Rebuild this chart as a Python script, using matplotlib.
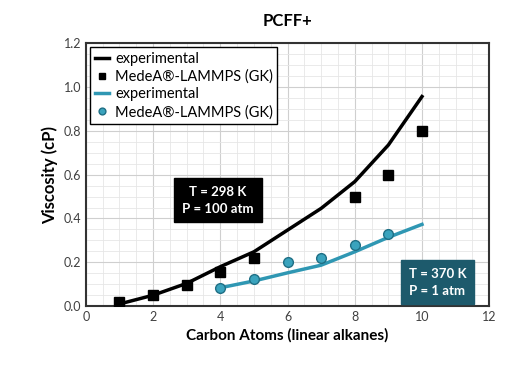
import matplotlib
matplotlib.use("Agg")
import matplotlib.pyplot as plt
from matplotlib.ticker import MultipleLocator

plt.rcParams['font.family'] = ['Lato', 'DejaVu Sans']

# experimental and simulated viscosities (cP)
carbon_exp_298 = [1, 2, 3, 4, 5, 6, 7, 8, 9, 10]
visc_exp_298 = [0.01, 0.05, 0.104, 0.18, 0.248, 0.347, 0.446, 0.568, 0.735, 0.956]
carbon_sim_298 = [1, 2, 3, 4, 5, 8, 9, 10]
visc_sim_298 = [0.02, 0.05, 0.096, 0.157, 0.218, 0.5, 0.598, 0.8]

carbon_exp_370 = [4, 5, 6, 7, 8, 9, 10]
visc_exp_370 = [0.084, 0.115, 0.152, 0.187, 0.248, 0.314, 0.373]
carbon_sim_370 = [4, 5, 6, 7, 8, 9]
visc_sim_370 = [0.084, 0.122, 0.2, 0.218, 0.279, 0.329]

teal_line = "#2f97b3"
teal_box = "#1d5a6c"

fig = plt.figure(figsize=(5.08, 3.68), dpi=100)
ax = fig.add_axes([0.169, 0.168, 0.794, 0.715])

ax.plot(carbon_exp_298, visc_exp_298, color="black", lw=2.5, label="experimental", zorder=3)
ax.plot(carbon_sim_298, visc_sim_298, ls="none", marker="s", ms=7, color="black",
        label="MedeA\u00ae-LAMMPS (GK)", zorder=4)
ax.plot(carbon_exp_370, visc_exp_370, color=teal_line, lw=2.5, label="experimental", zorder=3)
ax.plot(carbon_sim_370, visc_sim_370, ls="none", marker="o", ms=7, color="#3aa3bd",
        markeredgecolor="#1f6f85", label="MedeA\u00ae-LAMMPS (GK)", zorder=4)

ax.set_xlim(0, 12)
ax.set_ylim(0, 1.2)
ax.xaxis.set_major_locator(MultipleLocator(2))
ax.xaxis.set_minor_locator(MultipleLocator(0.5))
ax.yaxis.set_major_locator(MultipleLocator(0.2))
ax.yaxis.set_minor_locator(MultipleLocator(0.05))
ax.yaxis.set_major_formatter(lambda v, p: f"{v:.1f}")
ax.grid(which="major", color="#cfcfcf", lw=0.8)
ax.grid(which="minor", color="#e6e6e6", lw=0.6)
ax.tick_params(which="both", length=0, labelsize=9, colors="#404040")
for s in ax.spines.values():
    s.set_color("#333333")
    s.set_linewidth(1.5)

ax.set_title("PCFF+", fontsize=12, fontweight="bold", pad=12)
ax.set_xlabel("Carbon Atoms (linear alkanes)", fontsize=11, fontweight="bold")
ax.set_ylabel("Viscosity (cP)", fontsize=12, fontweight="bold")

leg = ax.legend(loc="upper left", fontsize=10.5, frameon=True, fancybox=False,
                handlelength=1.0, handletextpad=0.4, borderpad=0.3, labelspacing=0.25,
                borderaxespad=0.3, framealpha=1, markerscale=0.7)
leg.get_frame().set_edgecolor("black")
leg.get_frame().set_linewidth(1.0)

ax.text(3.93, 0.484, "T = 298 K\nP = 100 atm", ha="center", va="center", color="white",
        fontsize=9.5, fontweight="bold", linespacing=1.5,
        bbox=dict(boxstyle="square,pad=0.6", fc="black", ec="black"), zorder=5)
ax.text(10.46, 0.11, "T = 370 K\nP = 1 atm", ha="center", va="center", color="white",
        fontsize=9.5, fontweight="bold", linespacing=1.5,
        bbox=dict(boxstyle="square,pad=0.6", fc=teal_box, ec=teal_box), zorder=5)

fig.savefig("out.png", dpi=100)
